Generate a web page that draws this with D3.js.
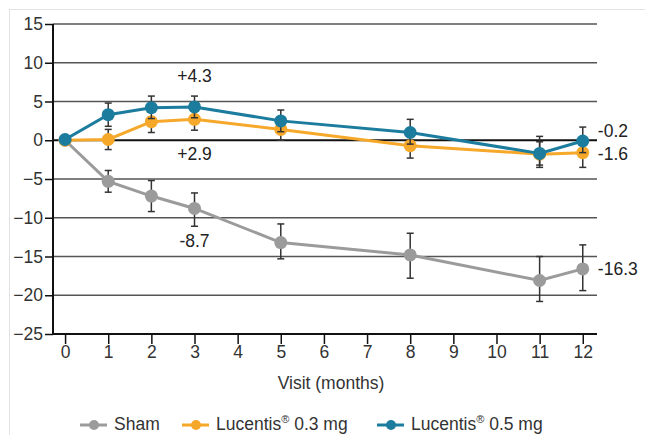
<!DOCTYPE html>
<html><head><meta charset="utf-8">
<script src="https://cdn.jsdelivr.net/npm/d3@7"></script>
<style>body{margin:0;background:#fff}svg{display:block;font-family:"Liberation Sans",Arial,sans-serif}</style>
</head><body><svg id="c" width="645" height="435"></svg>
<script>
const months = [0, 1, 2, 3, 5, 8, 11, 12];
const xTicks = [0,1,2,3,4,5,6,7,8,9,10,11,12];
const yTicks = [15,10,5,0,-5,-10,-15,-20,-25];
const seriesNames = ["Sham", "Lucentis® 0.3 mg", "Lucentis® 0.5 mg"];
const colors = ["#9b9b9b", "#f6a82a", "#1b7c9e"];
const shamVals = [0, -5.3, -7.2, -8.8, -13.2, -14.8, -18.1, -16.6];
const shamLow  = [null, -6.7, -9.2, -11.1, -15.3, -17.8, -20.8, -19.4];
const shamHigh = [null, -3.9, -5.2, -6.8, -10.8, -12.0, -15.0, -13.5];
const lo3Vals = [0, 0.1, 2.4, 2.7, 1.4, -0.7, -1.8, -1.6];
const lo3Low  = [null, -1.2, 1.0, 1.3, 0.0, -2.3, -3.5, -3.5];
const lo3High = [null, 1.4, 3.0, 3.2, 2.2, 0.6, -0.2, 0.0];
const hi5Vals = [0.1, 3.3, 4.2, 4.3, 2.5, 1.0, -1.7, -0.1];
const hi5Low  = [null, 1.8, 2.8, 2.9, 1.1, -0.5, -3.2, -1.6];
const hi5High = [null, 4.8, 5.7, 5.7, 3.9, 2.7, 0.5, 1.7];
const annotations = [
  {x: 3, y: 8.1, text: "+4.3", anchor: "middle"},
  {x: 3, y: -2.0, text: "+2.9", anchor: "middle"},
  {x: 3, y: -13.2, text: "-8.7", anchor: "middle"},
  {x: 12.35, y: 1.0, text: "-0.2", anchor: "start"},
  {x: 12.35, y: -1.9, text: "-1.6", anchor: "start"},
  {x: 12.35, y: -16.8, text: "-16.3", anchor: "start"}
];
const xLabel = "Visit (months)";
const FS = 17.5;

const svg = d3.select("#c");
const x = d3.scaleLinear().domain([-0.28, 12.33]).range([53, 597]);
const y = d3.scaleLinear().domain([-25, 15]).range([334, 24]);

svg.append("rect").attr("x",9.5).attr("y",9.5).attr("width",640).attr("height",430)
  .attr("fill","none").attr("stroke","#e2e2e2").attr("stroke-width",1);

svg.append("g").selectAll("line").data(yTicks).join("line")
  .attr("x1", x.range()[0]).attr("x2", x.range()[1])
  .attr("y1", d=>y(d)).attr("y2", d=>y(d))
  .attr("stroke", d=> d===0 ? "#111" : "#555")
  .attr("stroke-width", d=> d===0 ? 2 : 1.5);

const yAxis = d3.axisLeft(y).tickValues(yTicks).tickSize(8).tickPadding(2).tickFormat(d3.format("d"));
const gy = svg.append("g").attr("transform",`translate(${x.range()[0]},0)`).call(yAxis);
gy.select(".domain").attr("stroke","#111").attr("stroke-width",2).attr("d",`M0,${y(15)}V${y(-25)}`);
gy.selectAll(".tick line").attr("stroke","#111").attr("stroke-width",1.5);
gy.selectAll(".tick text").attr("font-size",FS).attr("fill","#333").attr("font-family","Liberation Sans, Arial, sans-serif");

const xAxis = d3.axisBottom(x).tickValues(xTicks).tickSize(10).tickPadding(2).tickFormat(d3.format("d"));
const gx = svg.append("g").attr("transform",`translate(0,${y(-25)})`).call(xAxis);
gx.select(".domain").attr("stroke","#111").attr("stroke-width",2).attr("d",`M${x.range()[0]},0H${x.range()[1]}`);
gx.selectAll(".tick line").attr("stroke","#111").attr("stroke-width",1.5);
gx.selectAll(".tick text").attr("font-size",FS).attr("fill","#333").attr("font-family","Liberation Sans, Arial, sans-serif");

svg.append("text").attr("x", 331).attr("y", 389).attr("text-anchor","middle")
  .attr("font-size",FS).attr("fill","#333").text(xLabel);

const series = [
  {vals: shamVals, low: shamLow, high: shamHigh},
  {vals: lo3Vals, low: lo3Low, high: lo3High},
  {vals: hi5Vals, low: hi5Low, high: hi5High}
];
const line = d3.line().x(d=>x(d[0])).y(d=>y(d[1]));

series.forEach((s,i)=>{
  const g = svg.append("g");
  const pts = months.map((m,j)=>[m, s.vals[j], s.low[j], s.high[j]]);
  g.append("path").attr("d", line(pts)).attr("fill","none").attr("stroke",colors[i]).attr("stroke-width",3);
  const eb = pts.filter(p=>p[2]!==null);
  g.selectAll("line.eb").data(eb).join("line").attr("class","eb")
    .attr("x1",p=>x(p[0])).attr("x2",p=>x(p[0])).attr("y1",p=>y(p[2])).attr("y2",p=>y(p[3]))
    .attr("stroke","#333").attr("stroke-width",1.5);
  ["2","3"].forEach(k=>{
    g.selectAll("line.cap"+k).data(eb).join("line").attr("class","cap"+k)
      .attr("x1",p=>x(p[0])-3.5).attr("x2",p=>x(p[0])+3.5)
      .attr("y1",p=>y(p[+k])).attr("y2",p=>y(p[+k]))
      .attr("stroke","#333").attr("stroke-width",1.5);
  });
  g.selectAll("circle").data(pts).join("circle")
    .attr("cx",p=>x(p[0])).attr("cy",p=>y(p[1])).attr("r",6.5).attr("fill",colors[i]);
});

svg.append("g").selectAll("text").data(annotations).join("text")
  .attr("x",d=>x(d.x)).attr("y",d=>y(d.y)).attr("text-anchor",d=>d.anchor)
  .attr("dominant-baseline","middle").attr("font-size",FS).attr("fill","#222").text(d=>d.text);

const legX = [80, 182, 377];
const lg = svg.append("g");
seriesNames.forEach((n,i)=>{
  const gg = lg.append("g").attr("transform",`translate(${legX[i]},425)`);
  gg.append("line").attr("x1",0).attr("x2",27).attr("y1",0).attr("y2",0).attr("stroke",colors[i]).attr("stroke-width",3);
  gg.append("circle").attr("cx",14).attr("cy",0).attr("r",5).attr("fill",colors[i]);
  const t = gg.append("text").attr("x",34).attr("y",0).attr("dominant-baseline","middle").attr("font-size",FS).attr("fill","#333");
  if (n.includes("®")) {
    const parts = n.split("®");
    t.append("tspan").text(parts[0]);
    t.append("tspan").attr("font-size",11).attr("dy",-5).text("®");
    t.append("tspan").attr("dy",5).text(parts[1]);
  } else t.text(n);
});
</script></body></html>
